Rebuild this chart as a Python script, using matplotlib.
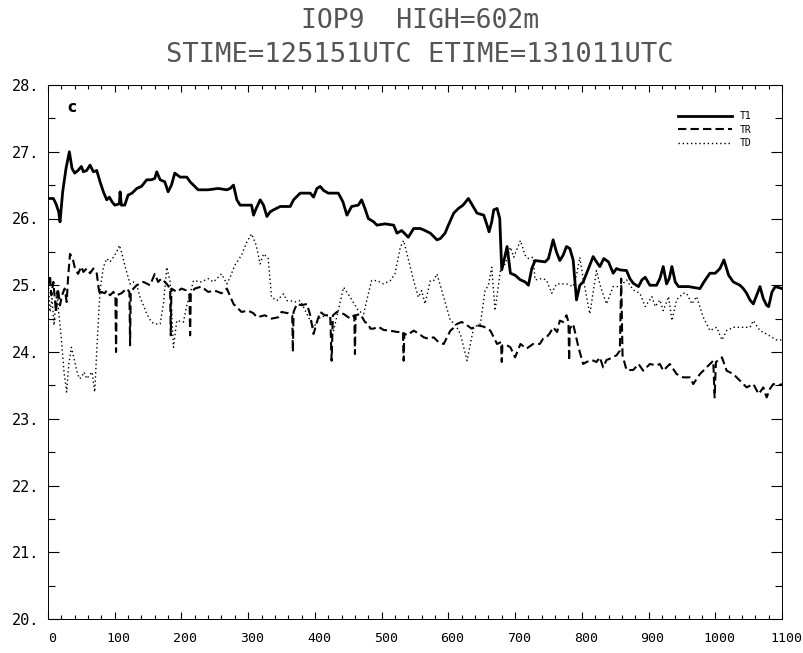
import matplotlib
matplotlib.use("Agg")
import matplotlib.pyplot as plt
from matplotlib.ticker import MultipleLocator, FuncFormatter
from matplotlib.transforms import ScaledTranslation

# time (s) and temperature values
t1_x = [0, 8, 12, 16, 18, 22, 27, 32, 36, 40, 45, 50, 53, 58, 63, 68, 73, 78, 83, 88,
        92, 96, 100, 107, 108, 110, 115, 120, 126, 133, 140, 148, 155, 160, 163, 168, 175, 180, 185, 190,
        198, 208, 213, 218, 225, 240, 255, 268, 273, 278, 283, 288, 300, 305, 308, 312, 318, 323, 328, 333,
        338, 348, 363, 368, 378, 393, 398, 403, 408, 413, 420, 435, 442, 448, 455, 465, 470, 475, 480, 488,
        493, 505, 518, 523, 530, 540, 548, 558, 565, 573, 583, 588, 595, 600, 608, 615, 622, 630, 637, 643,
        653, 658, 661, 665, 668, 673, 677, 680, 684, 688, 693, 700, 708, 715, 720, 725, 730, 745, 750, 757,
        762, 767, 772, 777, 782, 787, 792, 797, 802, 810, 817, 822, 827, 833, 840, 847, 852, 857, 867, 872,
        877, 885, 890, 895, 902, 912, 917, 922, 927, 931, 935, 940, 945, 960, 977, 985, 992, 1000, 1007, 1013,
        1020, 1027, 1037, 1042, 1047, 1052, 1057, 1062, 1067, 1072, 1077, 1080, 1085, 1090, 1100]
t1_y = [26.30, 26.30, 26.22, 26.10, 25.95, 26.40, 26.75, 27.00, 26.75, 26.68, 26.72, 26.78, 26.70, 26.72, 26.80, 26.70, 26.72, 26.55, 26.40, 26.28,
        26.32, 26.25, 26.20, 26.22, 26.40, 26.20, 26.20, 26.35, 26.38, 26.45, 26.48, 26.58, 26.58, 26.60, 26.70, 26.58, 26.55, 26.40, 26.50, 26.68,
        26.62, 26.62, 26.55, 26.50, 26.43, 26.43, 26.45, 26.43, 26.45, 26.50, 26.28, 26.20, 26.20, 26.20, 26.05, 26.15, 26.28, 26.20, 26.03, 26.10,
        26.13, 26.18, 26.18, 26.28, 26.38, 26.38, 26.32, 26.45, 26.48, 26.42, 26.38, 26.38, 26.25, 26.05, 26.18, 26.20, 26.28, 26.15, 26.00, 25.95,
        25.90, 25.92, 25.90, 25.78, 25.82, 25.72, 25.85, 25.85, 25.82, 25.78, 25.68, 25.70, 25.78, 25.90, 26.08, 26.15, 26.20, 26.30, 26.18, 26.08,
        26.05, 25.90, 25.80, 25.95, 26.13, 26.15, 26.00, 25.23, 25.40, 25.58, 25.18, 25.15, 25.08, 25.05, 25.00, 25.25, 25.37, 25.35, 25.40, 25.68,
        25.50, 25.37, 25.45, 25.58, 25.55, 25.38, 24.78, 25.00, 25.05, 25.25, 25.43, 25.35, 25.28, 25.40, 25.35, 25.18, 25.25, 25.23, 25.22, 25.10,
        25.03, 24.98, 25.08, 25.12, 25.00, 25.00, 25.10, 25.28, 25.02, 25.10, 25.28, 25.05, 24.98, 24.98, 24.95, 25.08, 25.18, 25.18, 25.25, 25.38,
        25.15, 25.05, 25.00, 24.95, 24.88, 24.78, 24.72, 24.85, 24.98, 24.80, 24.70, 24.68, 24.90, 24.98, 24.95]

tr_x = [0, 3, 5, 8, 12, 15, 18, 21, 25, 28, 30, 33, 37, 40, 45, 50, 53, 58, 63, 68,
        73, 76, 78, 80, 85, 88, 93, 98, 101, 102, 103, 110, 118, 122, 123, 124, 128, 133, 143, 153,
        160, 165, 170, 178, 183, 184, 185, 193, 200, 208, 212, 213, 214, 220, 230, 240, 250, 260, 268, 278,
        285, 290, 300, 308, 313, 325, 335, 345, 350, 360, 366, 367, 368, 373, 380, 388, 393, 398, 403, 408,
        415, 423, 425, 427, 433, 443, 453, 459, 460, 461, 468, 475, 480, 483, 488, 495, 503, 513, 523, 532,
        533, 534, 538, 548, 555, 563, 570, 578, 585, 593, 603, 610, 613, 620, 628, 635, 643, 653, 663, 673,
        679, 680, 681, 688, 693, 700, 708, 717, 727, 737, 742, 747, 752, 757, 763, 767, 772, 777, 780, 781,
        782, 787, 792, 795, 802, 807, 815, 822, 827, 832, 837, 842, 852, 857, 859, 861, 867, 877, 885, 892,
        902, 912, 917, 922, 932, 942, 952, 962, 967, 977, 987, 997, 999, 1001, 1010, 1017, 1027, 1037, 1047, 1057,
        1065, 1072, 1077, 1082, 1087, 1095, 1100]
tr_y = [25.00, 25.15, 24.85, 25.05, 24.60, 24.95, 24.70, 24.85, 24.95, 24.75, 25.10, 25.47, 25.40, 25.27, 25.17, 25.28, 25.20, 25.25, 25.18, 25.25,
        25.18, 24.95, 24.85, 24.90, 24.88, 24.92, 24.85, 24.90, 24.85, 24.00, 24.85, 24.88, 24.95, 24.90, 24.10, 24.90, 24.95, 25.00, 25.05, 25.00,
        25.17, 25.05, 25.10, 25.02, 24.95, 24.25, 24.95, 24.90, 24.95, 24.92, 24.85, 24.25, 24.88, 24.95, 24.98, 24.90, 24.92, 24.88, 24.95, 24.72,
        24.65, 24.60, 24.62, 24.58, 24.52, 24.55, 24.50, 24.52, 24.60, 24.58, 24.55, 24.00, 24.60, 24.72, 24.70, 24.72, 24.55, 24.27, 24.45, 24.60,
        24.55, 24.55, 23.87, 24.55, 24.60, 24.57, 24.50, 24.55, 23.97, 24.55, 24.57, 24.45, 24.42, 24.35, 24.35, 24.38, 24.33, 24.32, 24.30, 24.30,
        23.87, 24.28, 24.25, 24.32, 24.28, 24.22, 24.20, 24.22, 24.15, 24.12, 24.32, 24.38, 24.42, 24.45, 24.40, 24.35, 24.40, 24.38, 24.32, 24.12,
        24.15, 23.85, 24.10, 24.10, 24.07, 23.92, 24.12, 24.05, 24.12, 24.12, 24.20, 24.22, 24.28, 24.37, 24.30, 24.47, 24.45, 24.55, 24.45, 23.87,
        24.35, 24.42, 24.20, 24.07, 23.82, 23.85, 23.88, 23.85, 23.92, 23.77, 23.88, 23.90, 23.95, 24.02, 25.10, 23.95, 23.73, 23.73, 23.82, 23.72,
        23.82, 23.80, 23.82, 23.72, 23.82, 23.67, 23.62, 23.62, 23.52, 23.67, 23.77, 23.87, 23.32, 23.85, 23.92, 23.72, 23.67, 23.57, 23.47, 23.52,
        23.37, 23.47, 23.32, 23.45, 23.52, 23.50, 23.52]

td_x = [0, 3, 6, 9, 13, 16, 20, 24, 28, 31, 35, 39, 43, 47, 50, 54, 58, 62, 66, 70,
        74, 78, 83, 88, 93, 98, 103, 107, 110, 115, 123, 128, 133, 138, 143, 148, 155, 160, 168, 173,
        178, 183, 188, 193, 203, 208, 213, 218, 230, 240, 248, 260, 268, 273, 280, 290, 298, 305, 312, 318,
        323, 330, 335, 343, 353, 358, 363, 370, 378, 388, 398, 408, 418, 423, 428, 435, 443, 453, 465, 473,
        480, 485, 493, 503, 513, 520, 528, 533, 538, 548, 555, 560, 565, 573, 578, 583, 593, 603, 610, 618,
        628, 638, 648, 655, 660, 665, 670, 678, 685, 693, 698, 708, 715, 720, 727, 730, 740, 747, 755, 762,
        777, 787, 792, 797, 802, 812, 822, 828, 837, 847, 857, 867, 877, 887, 895, 905, 910, 917, 922, 930,
        935, 942, 952, 957, 965, 972, 982, 992, 1002, 1010, 1017, 1027, 1040, 1052, 1057, 1067, 1077, 1085, 1092, 1100]
td_y = [25.15, 24.60, 24.80, 24.40, 24.92, 24.60, 24.20, 23.70, 23.40, 23.80, 24.07, 23.90, 23.72, 23.60, 23.62, 23.70, 23.60, 23.65, 23.70, 23.40,
        24.20, 24.92, 25.27, 25.40, 25.35, 25.42, 25.50, 25.60, 25.50, 25.30, 25.02, 25.05, 25.00, 24.82, 24.70, 24.57, 24.45, 24.42, 24.42, 24.72,
        25.27, 25.05, 24.07, 24.47, 24.45, 24.70, 24.87, 25.07, 25.05, 25.10, 25.05, 25.17, 25.02, 25.12, 25.30, 25.45, 25.65, 25.77, 25.60, 25.32,
        25.47, 25.40, 24.82, 24.77, 24.87, 24.77, 24.77, 24.75, 24.77, 24.57, 24.37, 24.52, 24.55, 24.50, 24.32, 24.62, 24.97, 24.82, 24.62, 24.57,
        24.87, 25.07, 25.07, 25.02, 25.07, 25.17, 25.57, 25.67, 25.47, 25.07, 24.82, 24.92, 24.72, 25.07, 25.07, 25.17, 24.82, 24.47, 24.42, 24.27,
        23.87, 24.37, 24.42, 24.92, 25.00, 25.27, 24.62, 25.22, 25.32, 25.57, 25.42, 25.67, 25.45, 25.40, 25.42, 25.08, 25.10, 25.08, 24.88, 25.02,
        25.02, 24.98, 25.15, 25.42, 25.10, 24.57, 25.22, 24.98, 24.72, 24.98, 24.98, 25.08, 24.93, 24.88, 24.68, 24.83, 24.68, 24.78, 24.62, 24.83,
        24.47, 24.78, 24.88, 24.88, 24.72, 24.83, 24.52, 24.32, 24.37, 24.18, 24.32, 24.37, 24.37, 24.37, 24.47, 24.32, 24.27, 24.22, 24.18, 24.18]

x_ticks = [0, 100, 200, 300, 400, 500, 600, 700, 800, 900, 1000, 1100]
y_ticks = [20, 21, 22, 23, 24, 25, 26, 27, 28]

title1 = "IOP9  HIGH=602m"
title2 = "STIME=125151UTC ETIME=131011UTC"


def main():

	plt.rcParams['font.family'] = ['DejaVu Sans Mono', 'DejaVu Sans']

	fig = plt.figure(figsize=(8.04, 6.53), dpi=100)
	ax = fig.add_axes([48 / 804, 1 - 619 / 653, 734 / 804, 534 / 653])

	ax.plot(t1_x, t1_y, color='black', lw=2.0, label='T1')
	ax.plot(tr_x, tr_y, color='black', lw=1.5, linestyle=(0, (4, 2)), label='TR')
	ax.plot(td_x, td_y, color='black', lw=1.0, linestyle=(0, (1, 2)), label='TD')

	ax.set_xlim(0, 1100)
	ax.set_ylim(20, 28)
	ax.set_xticks(x_ticks)
	ax.set_yticks(y_ticks)
	ax.xaxis.set_minor_locator(MultipleLocator(20))
	ax.yaxis.set_minor_locator(MultipleLocator(0.5))
	ax.yaxis.set_major_formatter(FuncFormatter(lambda v, p: "%d." % v))

	ax.tick_params(which='both', direction='in', top=True, right=True, width=0.8)
	ax.tick_params(axis='x', which='major', length=5, labelsize=9.5, pad=9)
	ax.tick_params(axis='x', which='minor', length=3)
	ax.tick_params(axis='y', which='major', length=8, labelsize=11, pad=6)
	ax.tick_params(axis='y', which='minor', length=5)

	# labels in the original sit a little right of their ticks
	for lab in ax.get_xticklabels():
		lab.set_transform(lab.get_transform() + ScaledTranslation(4 / 100, 0, fig.dpi_scale_trans))

	for s in ax.spines.values():
		s.set_linewidth(0.7)

	ax.text(0.027, 0.972, 'c', transform=ax.transAxes, fontsize=11, fontweight='bold',
			ha='left', va='top', family='DejaVu Sans')

	ax.legend(loc='upper right', bbox_to_anchor=(0.965, 0.96), frameon=False, fontsize=7,
			  handlelength=5.5, labelspacing=0.35, handletextpad=0.8, borderpad=0)

	fig.text(420 / 804, 1 - 21 / 653, title1, ha='center', va='center', fontsize=19, color='#555555')
	fig.text(420 / 804, 1 - 55 / 653, title2, ha='center', va='center', fontsize=19.5, color='#555555')

	fig.savefig('out.png', dpi=100)


if __name__ == "__main__":
	main()
